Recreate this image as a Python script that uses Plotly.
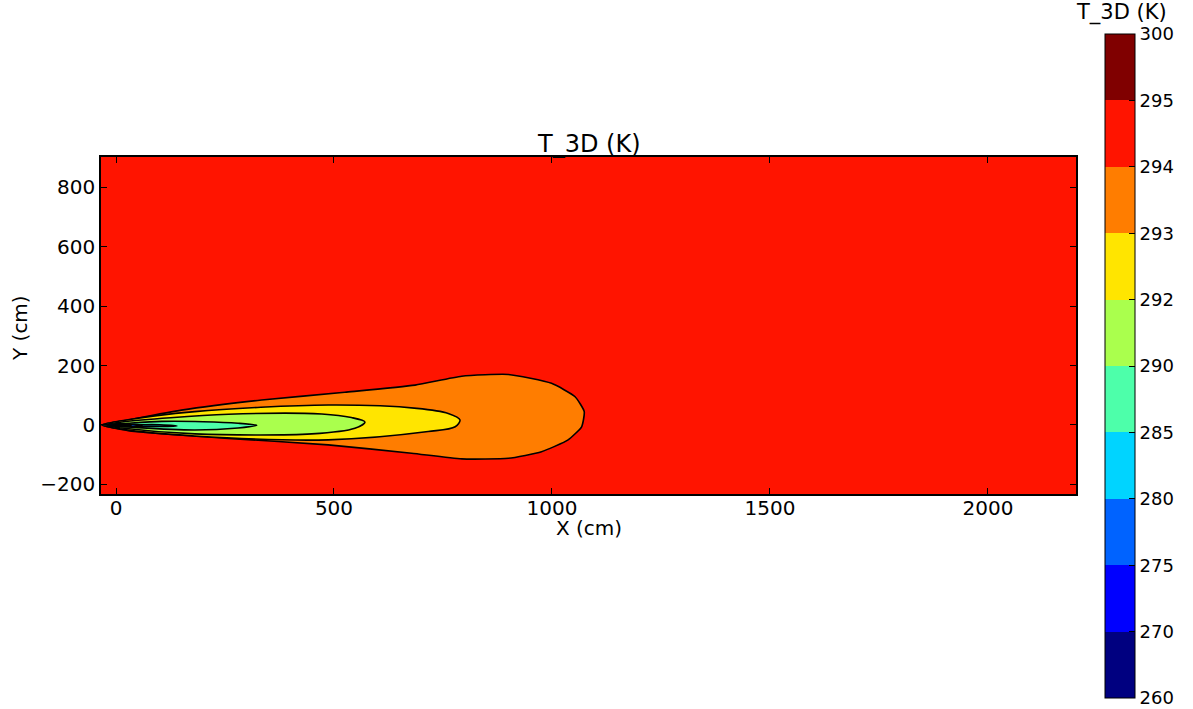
import plotly.graph_objects as go

# Contour levels (K) and band colours (jet)
levels = [260, 270, 275, 280, 285, 290, 292, 293, 294, 295, 300]
band_colors = ['rgb(0,0,128)', 'rgb(0,0,255)', 'rgb(0,99,255)', 'rgb(0,212,255)',
               'rgb(77,255,170)', 'rgb(170,255,77)', 'rgb(255,229,0)',
               'rgb(255,125,0)', 'rgb(255,20,0)', 'rgb(128,0,0)']
x_ticks = [0, 500, 1000, 1500, 2000]
y_ticks = [-200, 0, 200, 400, 600, 800]

# Contour outlines (cm)
c294_x = [-33, 28, 150, 334, 525, 686, 793, 900, 999, 1053, 1074, 1068, 1037, 976, 900, 793, 678, 487, 258, 28, -33]
c294_y = [0, 17, 50, 84, 110, 134, 164, 170, 140, 95, 45, -6, -50, -90, -112, -114, -95, -67, -45, -19, 0]

c293_x = [-31, 13, 181, 487, 690, 762, 789, 778, 716, 487, 181, 13, -31]
c293_y = [0, 14, 45, 67, 56, 39, 17, -6, -22, -50, -37, -14, 0]

c292_x = [-29, 13, 258, 472, 540, 571, 548, 449, 181, 13, -29]
c292_y = [0, 10, 36, 37, 25, 10, -11, -30, -30, -10, 0]

c290_x = [-26, 28, 105, 200, 280, 323, 280, 181, 50, -26]
c290_y = [0, 6, 12, 11, 6, -1, -10, -17, -9, 0]

c285_x = [30, 60, 100, 140, 100, 60, 30]
c285_y = [-1, 1, 1, -3, -5, -5, -3]

c280_x = [-22, 5, 40, 60, 40, 5, -22]
c280_y = [0, 3, 2, -1, -5, -4, 0]

c275_x = [-15, 10, 35, 10, -15]
c275_y = [0, 1.5, -1, -3, 0]

contours = [
    (c294_x, c294_y, band_colors[7], 0.5),
    (c293_x, c293_y, band_colors[6], 0.9),
    (c292_x, c292_y, band_colors[5], 0.9),
    (c290_x, c290_y, band_colors[4], 0.9),
    (c285_x, c285_y, band_colors[3], 0.9),
    (c280_x, c280_y, band_colors[2], 0.9),
    (c275_x, c275_y, band_colors[0], 0.9),
]

FONT = "DejaVu Sans"
TICK_SIZE = 20
CB_TICK_SIZE = 18
TITLE_SIZE = 24
CB_TITLE_SIZE = 21
fig = go.Figure()

for cx, cy, col, sm in contours:
    fig.add_trace(go.Scatter(x=cx, y=cy, mode='lines', fill='toself', fillcolor=col,
                             line=dict(color='black', width=1.6, shape='spline', smoothing=sm),
                             hoverinfo='skip', showlegend=False))

# colour bar (discrete, uniform spacing)
cs = []
n = len(band_colors)
for i, c in enumerate(band_colors):
    cs.append([i / n, c])
    cs.append([(i + 1) / n, c])

PL, PR, PT, PB = 101, 1076, 157, 494
PW, PH = PR - PL, PB - PT

fig.add_trace(go.Scatter(
    x=[-5000], y=[-5000], mode='markers', showlegend=False, hoverinfo='skip',
    marker=dict(size=1, color=[0], colorscale=cs, cmin=0, cmax=n, showscale=True,
                colorbar=dict(
                    tickmode='array',
                    tickvals=list(range(len(levels))), ticktext=[str(l) for l in levels],
                    ticklabeloverflow='allow',
                    ticks='inside', ticklen=6, tickcolor='black', tickwidth=1,
                    outlinewidth=1, outlinecolor='black', thickness=30,
                    len=664, lenmode='pixels',
                    x=(1105 - PL) / PW, xanchor='left',
                    y=(PB - 34) / PH, yanchor='top',
                    xpad=0, ypad=0,
                    tickfont=dict(family=FONT, size=CB_TICK_SIZE, color='black'),
                )),
))

fig.update_layout(
    width=1193, height=709,
    margin=dict(l=PL, r=1193 - PR, t=PT, b=709 - PB, autoexpand=False),
    paper_bgcolor='white', plot_bgcolor=band_colors[8],
    font=dict(family=FONT, size=TICK_SIZE, color='black'),
    annotations=[
        dict(text='T_3D (K)', xref='paper', yref='paper',
             x=(588.5 - PL) / PW, y=(PB - 144) / PH,
             xanchor='center', yanchor='middle', showarrow=False,
             font=dict(family=FONT, size=TITLE_SIZE, color='black')),
        dict(text='T_3D (K)', xref='paper', yref='paper',
             x=(1121 - PL) / PW, y=(PB - 13) / PH,
             xanchor='center', yanchor='middle', showarrow=False,
             font=dict(family=FONT, size=CB_TITLE_SIZE, color='black')),
        dict(text='X (cm)', xref='paper', yref='paper',
             x=(589 - PL) / PW, y=(PB - 528) / PH,
             xanchor='center', yanchor='middle', showarrow=False,
             font=dict(family=FONT, size=TICK_SIZE, color='black')),
        dict(text='Y (cm)', xref='paper', yref='paper', textangle=-90,
             x=(20 - PL) / PW, y=(PB - 328) / PH,
             xanchor='center', yanchor='middle', showarrow=False,
             font=dict(family=FONT, size=TICK_SIZE, color='black')),
    ],
)

fig.update_xaxes(range=[-34.4, 2202], tickvals=x_ticks,
                 ticks='inside', ticklen=6, tickcolor='black', ticklabelstandoff=-5,
                 showline=True, linecolor='black', linewidth=1.5, mirror='ticks',
                 showgrid=False, zeroline=False)
fig.update_yaxes(range=[-232, 901], tickvals=y_ticks,
                 ticks='inside', ticklen=6, tickcolor='black',
                 showline=True, linecolor='black', linewidth=1.5, mirror='ticks',
                 showgrid=False, zeroline=False)

fig.write_html("out.html")
